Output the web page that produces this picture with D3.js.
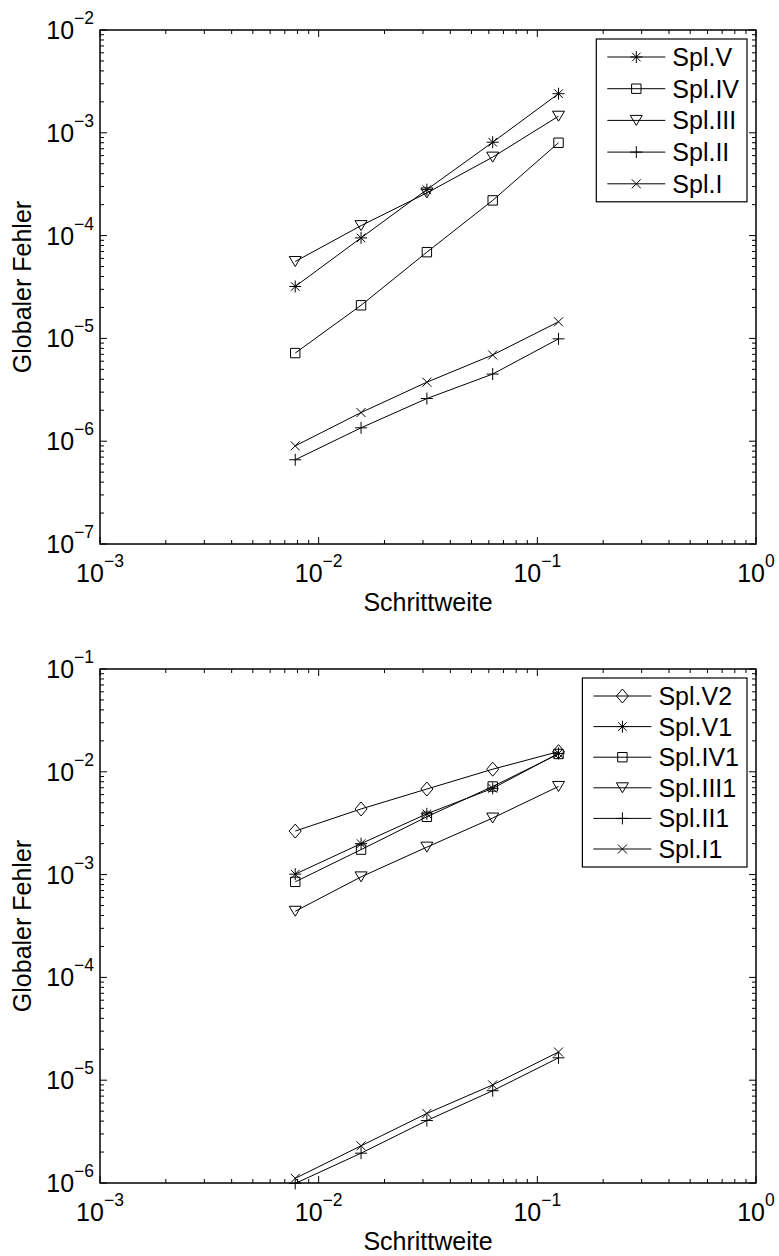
<!DOCTYPE html>
<html>
<head>
<meta charset="utf-8">
<script src="https://cdn.jsdelivr.net/npm/d3@7"></script>
<style>
  body { margin: 0; background: #fff; }
  svg { display: block; font-family: "Liberation Sans", Arial, sans-serif; }
</style>
</head>
<body>
<svg id="chart" width="779" height="1256"></svg>
<script>
// step sizes h = 1/128 ... 1/8
const steps = [1 / 128, 1 / 64, 1 / 32, 1 / 16, 1 / 8];

const xTicks = [1e-3, 1e-2, 1e-1, 1e0];
const topTicks = [1e-7, 1e-6, 1e-5, 1e-4, 1e-3, 1e-2];
const bottomTicks = [1e-6, 1e-5, 1e-4, 1e-3, 1e-2, 1e-1];

const xLabel = "Schrittweite";
const yLabel = "Globaler Fehler";

// upper figure
const splV = [3.2e-5, 9.5e-5, 2.8e-4, 8.1e-4, 2.4e-3];
const splIV = [7.2e-6, 2.1e-5, 6.9e-5, 2.2e-4, 8.0e-4];
const splIII = [5.6e-5, 1.25e-4, 2.6e-4, 5.8e-4, 1.45e-3];
const splII = [6.6e-7, 1.35e-6, 2.6e-6, 4.5e-6, 9.9e-6];
const splI = [9.0e-7, 1.9e-6, 3.75e-6, 6.9e-6, 1.45e-5];

const topNames = ["Spl.V", "Spl.IV", "Spl.III", "Spl.II", "Spl.I"];
const topMarkers = ["asterisk", "square", "triangle", "plus", "x"];
const topValues = [splV, splIV, splIII, splII, splI];

// lower figure
const splV2 = [2.65e-3, 4.35e-3, 6.8e-3, 1.06e-2, 1.57e-2];
const splV1 = [1.01e-3, 2.0e-3, 3.9e-3, 6.9e-3, 1.51e-2];
const splIV1 = [8.5e-4, 1.75e-3, 3.65e-3, 7.2e-3, 1.49e-2];
const splIII1 = [4.4e-4, 9.5e-4, 1.85e-3, 3.55e-3, 7.2e-3];
const splII1 = [9.9e-7, 1.95e-6, 4.05e-6, 7.9e-6, 1.65e-5];
const splI1 = [1.11e-6, 2.3e-6, 4.75e-6, 9.0e-6, 1.88e-5];

const bottomNames = ["Spl.V2", "Spl.V1", "Spl.IV1", "Spl.III1", "Spl.II1", "Spl.I1"];
const bottomMarkers = ["diamond", "asterisk", "square", "triangle", "plus", "x"];
const bottomValues = [splV2, splV1, splIV1, splIII1, splII1, splI1];

const svg = d3.select("#chart");
const left = 100, right = 756, plotH = 514;
const fontSize = 25, supSize = 17.5;

drawPanel(30, topTicks, topNames, topMarkers, topValues, 31.7);
drawPanel(669, bottomTicks, bottomNames, bottomMarkers, bottomValues, 30.6);

function drawPanel(top, yTicks, names, markers, values, rowH) {
  const bottom = top + plotH;
  const x = d3.scaleLog().domain([xTicks[0], xTicks[xTicks.length - 1]]).range([left, right]);
  const y = d3.scaleLog().domain([yTicks[0], yTicks[yTicks.length - 1]]).range([bottom, top]);
  const g = svg.append("g");

  // data lines + markers (drawn in reverse so Spl.I is at the bottom)
  values.slice().reverse().forEach((vals, r) => {
    const k = values.length - 1 - r;
    const pts = vals.map((v, i) => [x(steps[i]), y(v)]);
    g.append("path")
      .attr("d", d3.line()(pts))
      .attr("fill", "none")
      .attr("stroke", "#000")
      .attr("stroke-width", 1);
    g.selectAll(null)
      .data(pts)
      .enter()
      .append("path")
      .attr("transform", p => `translate(${p[0]},${p[1]})`)
      .attr("d", markerPath(markers[k]))
      .attr("fill", "none")
      .attr("stroke", "#000")
      .attr("stroke-width", 1);
  });

  // ticks on all four sides, pointing inwards
  const isMajor = v => Math.abs(Math.log10(v) - Math.round(Math.log10(v))) < 1e-9;
  x.ticks().forEach(v => {
    const len = isMajor(v) ? 7 : 4;
    const px = x(v);
    g.append("line").attr("x1", px).attr("x2", px).attr("y1", bottom).attr("y2", bottom - len);
    g.append("line").attr("x1", px).attr("x2", px).attr("y1", top).attr("y2", top + len);
  });
  y.ticks().forEach(v => {
    const len = isMajor(v) ? 7 : 4;
    const py = y(v);
    g.append("line").attr("y1", py).attr("y2", py).attr("x1", left).attr("x2", left + len);
    g.append("line").attr("y1", py).attr("y2", py).attr("x1", right).attr("x2", right - len);
  });
  g.selectAll("line").attr("stroke", "#000").attr("stroke-width", 1);

  g.append("rect")
    .attr("x", left).attr("y", top)
    .attr("width", right - left).attr("height", plotH)
    .attr("fill", "none")
    .attr("stroke", "#000")
    .attr("stroke-width", 1.5);

  // tick labels 10^k
  xTicks.forEach(v => {
    powerLabel(g, Math.round(Math.log10(v)), x(v), bottom + 38, "middle");
  });
  yTicks.forEach(v => {
    powerLabel(g, Math.round(Math.log10(v)), left - 6, y(v) + 9, "end");
  });

  g.append("text")
    .attr("x", (left + right) / 2)
    .attr("y", bottom + 67)
    .attr("text-anchor", "middle")
    .attr("font-size", fontSize)
    .text(xLabel);

  g.append("text")
    .attr("transform", `translate(31,${top + plotH / 2}) rotate(-90)`)
    .attr("text-anchor", "middle")
    .attr("font-size", fontSize)
    .text(yLabel);

  // legend
  const padTop = 18;
  const lg = g.append("g");
  const box = lg.append("rect");
  const lx = 11, textX = 76;
  let maxW = 0;
  names.forEach((name, i) => {
    const cy = padTop + i * rowH;
    lg.append("line")
      .attr("x1", lx).attr("x2", lx + 58)
      .attr("y1", cy).attr("y2", cy)
      .attr("stroke", "#000").attr("stroke-width", 1);
    lg.append("path")
      .attr("transform", `translate(${lx + 29},${cy})`)
      .attr("d", markerPath(markers[i]))
      .attr("fill", "none").attr("stroke", "#000").attr("stroke-width", 1);
    const t = lg.append("text")
      .attr("x", textX).attr("y", cy + 9)
      .attr("font-size", fontSize)
      .text(name);
    maxW = Math.max(maxW, t.node().getComputedTextLength());
  });
  const boxW = textX + maxW + 8;
  const boxH = padTop * 2 + (names.length - 1) * rowH;
  box.attr("width", boxW).attr("height", boxH)
    .attr("fill", "#fff").attr("stroke", "#000").attr("stroke-width", 1.2);
  lg.attr("transform", `translate(${right - 9 - boxW},${top + 9})`);
}

function powerLabel(g, exp, px, py, anchor) {
  const t = g.append("text")
    .attr("x", px).attr("y", py)
    .attr("text-anchor", anchor)
    .attr("font-size", fontSize);
  t.append("tspan").text("10");
  t.append("tspan")
    .attr("dy", -15)
    .attr("font-size", supSize)
    .text(exp < 0 ? "\u2212" + (-exp) : String(exp));
}

function markerPath(type) {
  switch (type) {
    case "asterisk": {
      const a = 6, d = 4.3;
      return `M${-a},0H${a}M0,${-a}V${a}M${-d},${-d}L${d},${d}M${-d},${d}L${d},${-d}`;
    }
    case "square": {
      const s = 4.7;
      return `M${-s},${-s}H${s}V${s}H${-s}Z`;
    }
    case "triangle": {
      const w = 6, h = 5;
      return `M${-w},${-h}L${w},${-h}L0,${h}Z`;
    }
    case "plus": {
      const a = 6;
      return `M${-a},0H${a}M0,${-a}V${a}`;
    }
    case "x": {
      const a = 4.5;
      return `M${-a},${-a}L${a},${a}M${-a},${a}L${a},${-a}`;
    }
    case "diamond": {
      const w = 6, h = 7;
      return `M0,${-h}L${w},0L0,${h}L${-w},0Z`;
    }
  }
  return "";
}
</script>
</body>
</html>
